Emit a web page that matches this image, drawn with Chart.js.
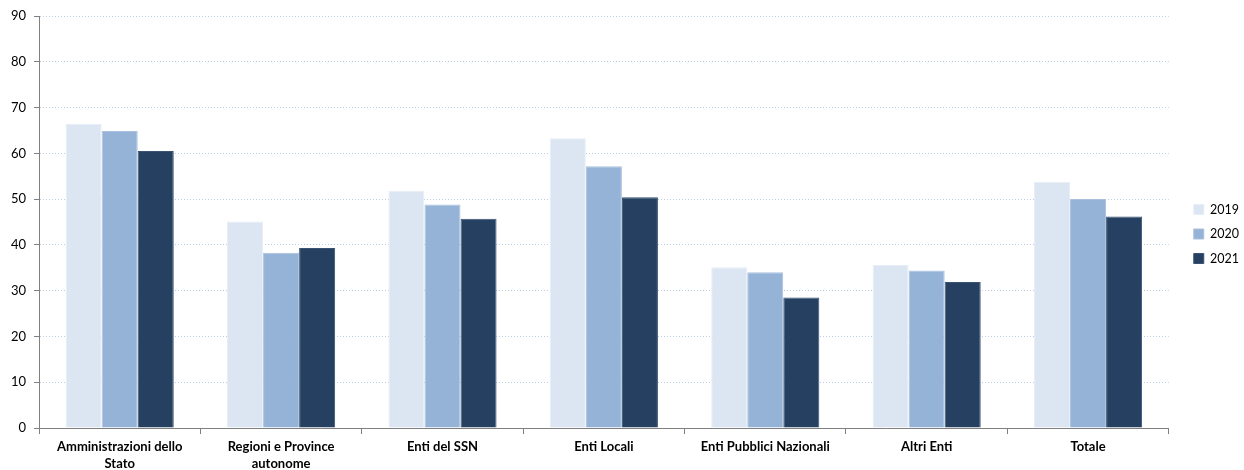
<!DOCTYPE html>
<html>
<head>
<meta charset="utf-8">
<script src="https://cdn.jsdelivr.net/npm/chart.js@4.4.1/dist/chart.umd.min.js"></script>
<style>
  html, body { margin: 0; padding: 0; background: #ffffff; }
  #wrap { width: 1244px; height: 470px; position: relative; }
</style>
</head>
<body>
<div id="wrap"><canvas id="chart"></canvas></div>
<script>
// Categories (multi-line labels as arrays)
const categories = [
  ["Amministrazioni dello", "Stato"],
  ["Regioni e Province", "autonome"],
  "Enti del SSN",
  "Enti Locali",
  "Enti Pubblici Nazionali",
  "Altri Enti",
  "Totale"
];
const seriesNames = ["2019", "2020", "2021"];
const values2019 = [66.4, 45.1, 51.8, 63.3, 35.1, 35.6, 53.8];
const values2020 = [64.9, 38.3, 48.8, 57.2, 34.0, 34.4, 50.0];
const values2021 = [60.5, 39.3, 45.7, 50.4, 28.5, 31.9, 46.2];
const yTicks = [0, 10, 20, 30, 40, 50, 60, 70, 80, 90];

const colors = ["#DCE6F2", "#95B3D7", "#254061"];
const edgeColors = ["#E8EEF7", "#A9C1DE", "#3A5273"];
const fontFamily = "Lato, 'Open Sans', sans-serif";

const seriesValues = [values2019, values2020, values2021];
const datasets = seriesNames.map((name, i) => ({
  label: name,
  data: seriesValues[i],
  backgroundColor: colors[i],
  borderColor: edgeColors[i],
  borderWidth: 1,
  categoryPercentage: 0.67,
  barPercentage: 1.0
}));

// Nudges the legend block a little to the right and up after layout
const legendNudge = {
  id: "legendNudge",
  afterLayout(chart) {
    const lg = chart.legend;
    if (!lg) return;
    const dx = 13, dy = -9;
    lg.left += dx; lg.right += dx;
    lg.top += dy; lg.bottom += dy;
  }
};

new Chart(document.getElementById("chart"), {
  type: "bar",
  data: { labels: categories, datasets },
  plugins: [legendNudge],
  options: {
    responsive: true,
    maintainAspectRatio: false,
    animation: false,
    layout: { padding: { top: 16, right: 8, left: 0, bottom: 0 } },
    plugins: {
      tooltip: { enabled: false },
      legend: {
        position: "right",
        labels: {
          boxWidth: 10,
          boxHeight: 10,
          padding: 12,
          color: "#000000",
          font: { family: fontFamily, size: 12.5 }
        }
      }
    },
    scales: {
      x: {
        grid: {
          display: true,
          drawOnChartArea: false,
          offset: true,
          tickLength: 6,
          color: "#808080"
        },
        border: { display: true, color: "#808080", width: 1 },
        ticks: {
          color: "#000000",
          maxRotation: 0,
          autoSkip: false,
          padding: 4,
          font: { family: fontFamily, size: 13, weight: "bold", lineHeight: 1.3 }
        },
        afterFit(scale) { scale.height = 42; }
      },
      y: {
        min: 0,
        max: 90,
        afterBuildTicks(scale) { scale.ticks = yTicks.map(v => ({ value: v })); },
        grid: {
          color: "#B9CDE5",
          tickColor: "#808080",
          tickLength: 5
        },
        border: { display: true, color: "#808080", width: 1, dash: [1, 2] },
        ticks: {
          color: "#000000",
          padding: 8,
          font: { family: fontFamily, size: 13 }
        },
        afterFit(scale) { scale.width = 39; }
      }
    }
  }
});
</script>
</body>
</html>
